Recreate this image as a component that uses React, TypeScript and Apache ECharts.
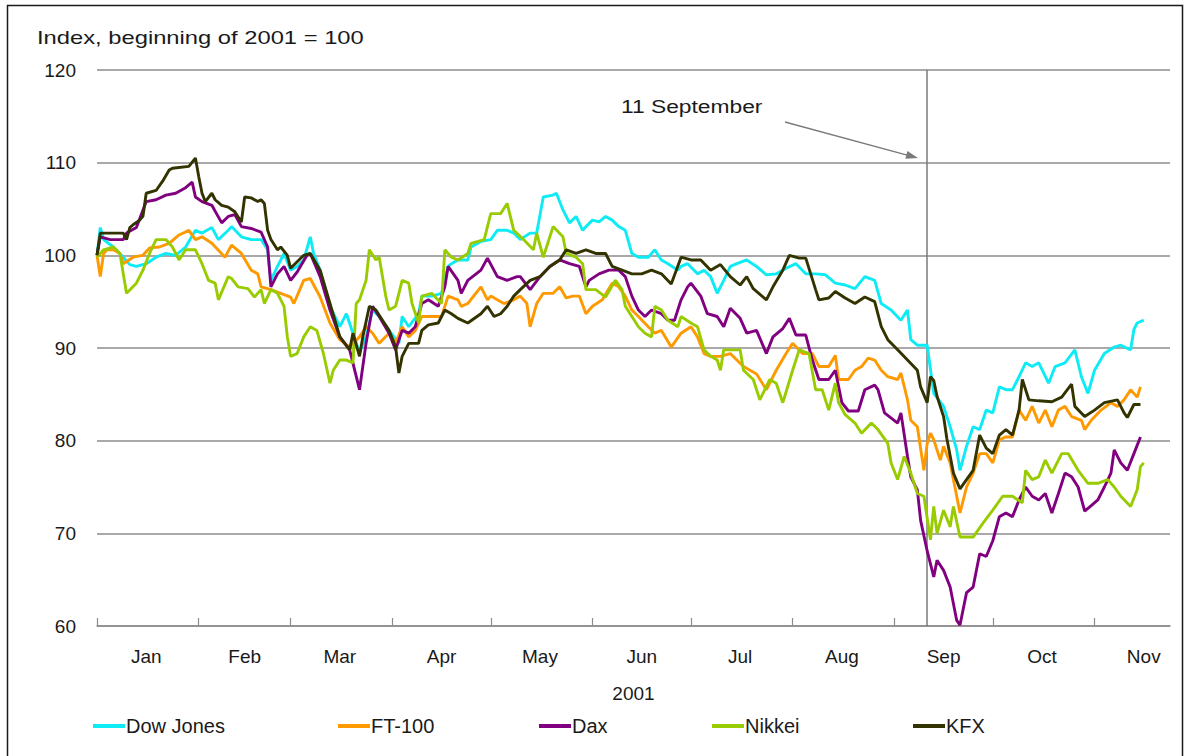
import React, { useEffect, useRef } from "react";
import * as echarts from "echarts";

// ---- Data (day of year 2001, Jan 1 = 0; index, beginning of 2001 = 100) ----
const MONTHS = ["Jan", "Feb", "Mar", "Apr", "May", "Jun", "Jul", "Aug", "Sep", "Oct", "Nov"];
const MONTH_START_DAYS = [0, 31, 59, 90, 120, 151, 181, 212, 243, 273, 304];
const MONTH_LABEL_DAYS = [15, 45, 74, 105, 135, 166, 196, 227, 258, 288, 319];
const Y_TICKS = [60, 70, 80, 90, 100, 110, 120];
const SEPT11_DAY = 253;
const SERIES_NAMES = ["Dow Jones", "FT-100", "Dax", "Nikkei", "KFX"];
const SERIES_COLORS = ["#0DEBF5", "#FF9900", "#800080", "#99CC00", "#333300"];

const dowJones: [number, number][] = [
  [0, 100], [1, 103], [2, 101.7], [5, 100.9], [8, 99.8], [10, 99], [12, 98.8], [15, 99.1], [18, 99.8],
  [21, 100.2], [24, 100], [27, 100.9], [30, 102.7], [32, 102.4], [35, 103], [37, 101.7], [40, 102.7],
  [41, 103.1], [44, 102], [47, 101.7], [50, 101.7], [52, 100.6], [53, 97.3], [55, 98.8], [57, 100.2],
  [59, 98.4], [61, 98.8], [63, 99.5], [65, 102], [66, 100.2], [68, 98.4], [71, 94.5], [74, 92.3],
  [76, 93.7], [78, 91.6], [80, 89.5], [82, 91.2], [84, 94.1], [86, 93.4], [89, 91.9], [92, 90.5],
  [93, 93.4], [95, 92.3], [98, 93.7], [99, 95.6], [102, 95.6], [105, 95.9], [107, 98.8], [108, 99.1],
  [110, 99.5], [113, 99.5], [114, 100.9], [117, 101.5], [120, 101.7], [122, 102.7], [125, 102.7],
  [127, 102.4], [129, 101.7], [132, 102.4], [134, 102.4], [136, 106.3], [139, 106.5], [140, 106.7],
  [142, 104.9], [144, 103.5], [146, 104.2], [148, 102.7], [149, 103.1], [151, 103.8], [153, 103.6],
  [155, 104.2], [157, 103.8], [159, 103.1], [161, 102.7], [163, 100.2], [165, 99.8], [168, 99.8],
  [170, 100.6], [172, 99.5], [174, 99.1], [177, 98.4], [178, 98.8], [180, 99.1], [183, 98], [185, 98.4],
  [187, 97.7], [189, 95.9], [191, 97.3], [193, 98.8], [195, 99.1], [198, 99.5], [201, 98.8], [204, 97.9],
  [207, 98], [210, 98.6], [213, 99.1], [216, 98], [219, 98], [222, 97.9], [225, 97], [228, 96.8],
  [231, 96.4], [234, 97.7], [237, 97.3], [239, 94.8], [242, 94.1], [245, 93], [247, 94.1], [248, 90.9],
  [250, 90.3], [253, 90.3], [255, 85.1], [258, 83.7], [260, 81.5], [262, 79], [263, 76.8], [265, 79.4],
  [267, 81.5], [269, 81.2], [271, 83.3], [273, 83], [275, 85.8], [277, 85.5], [279, 85.5], [281, 86.9],
  [283, 88.4], [285, 88], [287, 88.4], [290, 86.2], [292, 88], [295, 88.4], [298, 89.8], [300, 86.9],
  [302, 85.1], [304, 87.6], [307, 89.4], [310, 90.1], [312, 90.3], [315, 89.8], [316, 92], [317, 92.7],
  [319, 93],
];

const ft100: [number, number][] = [
  [0, 100], [1, 97.7], [2, 100.2], [3, 100.6], [5, 100.6], [7, 100.2], [8, 99.1], [11, 99.8], [14, 100],
  [16, 100.8], [19, 100.9], [22, 101.3], [25, 102.2], [28, 102.7], [30, 101.7], [32, 102], [35, 101.3],
  [39, 99.8], [41, 101.1], [44, 100.2], [47, 98.4], [49, 98], [50, 96.6], [53, 96.3], [56, 95.9],
  [59, 95.5], [60, 94.8], [63, 97.3], [65, 97.5], [68, 95.5], [71, 92.7], [74, 90.9], [77, 90.1],
  [80, 91.2], [82, 92.3], [84, 91.6], [86, 90.5], [89, 91.6], [91, 90.5], [93, 92.3], [95, 91.2],
  [97, 91.9], [99, 93.4], [102, 93.4], [105, 93.4], [107, 95.6], [110, 95.2], [111, 94.5], [113, 94.8],
  [117, 96.6], [119, 95.2], [120, 95.6], [124, 94.8], [127, 95.2], [129, 95.6], [131, 94.8], [132, 92.3],
  [134, 94.8], [136, 95.9], [139, 95.9], [141, 96.6], [143, 95.4], [145, 95.6], [147, 95.6], [149, 93.7],
  [151, 94.5], [154, 95.2], [157, 97], [159, 96.6], [161, 95.6], [163, 94.1], [165, 93.4], [168, 92.3],
  [170, 91.6], [172, 91.9], [175, 90.1], [178, 91.6], [181, 92.3], [183, 91.2], [185, 89.4], [187, 89.1],
  [190, 89.1], [193, 89.4], [197, 88], [201, 87.2], [204, 85.5], [207, 87.6], [210, 89.4], [212, 90.5],
  [215, 89.4], [218, 89.4], [220, 88], [223, 88], [225, 89.2], [226, 86.6], [229, 86.6], [231, 87.6],
  [233, 88], [235, 88.9], [237, 88.7], [239, 87.6], [241, 86.9], [244, 86.6], [245, 87.3], [247, 84.4],
  [248, 82.2], [250, 81.5], [252, 76.8], [253, 79.7], [254, 80.8], [255, 80.1], [257, 77.9], [258, 79.4],
  [260, 77.6], [262, 74], [263, 72.2], [265, 75], [267, 76.5], [269, 78.6], [271, 78.6], [273, 77.6],
  [275, 80.1], [277, 80.4], [279, 80.4], [281, 83.3], [283, 82.2], [285, 83.7], [287, 81.9], [289, 83.3],
  [291, 81.5], [293, 83.3], [295, 83.7], [297, 82.6], [300, 82.2], [301, 81.2], [303, 82.2], [306, 83.3],
  [309, 84.1], [311, 83.7], [313, 84.4], [315, 85.5], [317, 84.7], [318, 85.8],
];

const dax: [number, number][] = [
  [0, 100], [1, 102], [4, 101.7], [8, 101.7], [9, 102.4], [12, 103], [15, 105.8], [18, 106], [21, 106.5],
  [24, 106.7], [27, 107.3], [29, 107.9], [30, 106.3], [32, 105.8], [35, 105.4], [38, 103.5], [40, 104.2],
  [42, 104.4], [44, 103.1], [47, 102.9], [50, 102.5], [52, 100.9], [53, 96.6], [55, 98], [57, 98.8],
  [59, 97.3], [61, 98.2], [64, 100], [65, 100.2], [68, 97.7], [71, 94.1], [74, 91.2], [77, 89.8],
  [80, 85.5], [82, 90.5], [84, 94.5], [86, 93.4], [89, 91.6], [91, 89.8], [93, 91.9], [95, 91.6],
  [97, 92.3], [99, 94.8], [101, 95.2], [104, 94.5], [106, 96.6], [107, 98.8], [110, 97.3], [111, 95.9],
  [113, 97.3], [117, 98.4], [119, 99.7], [122, 97.7], [125, 97.3], [128, 97.7], [129, 97.7], [132, 96.3],
  [135, 97.7], [138, 98.8], [141, 99.5], [144, 99.1], [147, 98.8], [149, 96.6], [150, 97.3], [153, 98],
  [156, 98.4], [159, 98.4], [161, 97.7], [163, 95.6], [165, 94.1], [167, 93.4], [169, 94.1], [172, 93.7],
  [174, 93], [176, 93], [178, 95.2], [180, 96.6], [181, 97], [184, 95.6], [186, 93.7], [189, 93.4],
  [191, 92.3], [193, 94.3], [196, 93.2], [198, 91.6], [201, 91.9], [204, 89.4], [206, 91.2], [209, 92.1],
  [211, 93.2], [213, 91.4], [216, 91.4], [218, 88.7], [220, 86.6], [223, 86.6], [225, 87.6], [227, 84.1],
  [229, 83.2], [232, 83.2], [234, 85.5], [237, 86], [238, 85.5], [240, 83], [244, 81.9], [245, 83],
  [247, 78.3], [248, 76.1], [250, 74.7], [251, 71.4], [253, 68.1], [255, 65.3], [256, 67.1], [258, 66],
  [260, 64.2], [262, 60.6], [263, 60.1], [265, 63.6], [267, 64.2], [269, 67.8], [271, 67.5], [273, 69.2],
  [275, 71.8], [277, 72.2], [279, 71.8], [281, 73.6], [283, 75], [285, 74], [287, 73.6], [289, 74.3],
  [291, 72.2], [293, 74.3], [295, 76.5], [297, 76.1], [299, 75], [301, 72.4], [303, 73], [305, 73.6],
  [307, 75], [309, 76.5], [310, 79], [312, 77.6], [314, 76.8], [316, 78.6], [318, 80.4],
];

const nikkei: [number, number][] = [
  [0, 99.8], [2, 100.6], [5, 100.9], [7, 100.2], [8, 98], [9, 95.9], [12, 97], [14, 98.4], [16, 100.2],
  [18, 101.7], [21, 101.7], [23, 100.9], [25, 99.5], [27, 100.6], [30, 100.6], [32, 99.1], [34, 97.3],
  [36, 97], [37, 95.2], [40, 97.7], [41, 97.5], [43, 96.6], [46, 96.4], [48, 95.5], [50, 96.3], [51, 94.8],
  [53, 96.3], [55, 95.9], [57, 94.5], [58, 91.2], [59, 89.1], [61, 89.4], [63, 91.2], [65, 92.3],
  [67, 91.9], [69, 89.4], [71, 86.2], [72, 87.6], [74, 88.7], [76, 88.7], [78, 88.4], [79, 94.8],
  [80, 95.2], [82, 97.3], [83, 100.6], [85, 99.5], [86, 99.8], [88, 95.6], [89, 94.1], [91, 94.5],
  [93, 97.3], [95, 97], [96, 94.8], [98, 92.7], [99, 95.6], [102, 95.9], [105, 94.8], [106, 100.6],
  [108, 99.8], [110, 99.5], [113, 100.2], [114, 101.3], [118, 101.7], [120, 104.5], [123, 104.5],
  [125, 105.6], [127, 102.7], [130, 101.7], [133, 100.6], [134, 102.4], [136, 99.8], [137, 100.9],
  [139, 103.1], [142, 102], [143, 100.2], [146, 99.8], [148, 99.1], [149, 96.3], [152, 96.3], [155, 95.5],
  [158, 97.3], [160, 96.3], [161, 94.5], [163, 93.4], [165, 92.3], [167, 91.6], [169, 91.2], [170, 94.5],
  [172, 94.1], [174, 93], [177, 92.3], [178, 93.4], [181, 92.7], [183, 92.3], [185, 89.8], [187, 89.1],
  [189, 88.7], [190, 87.6], [191, 89.8], [194, 89.8], [196, 89.8], [197, 87.6], [200, 86.6], [202, 84.4],
  [205, 86.6], [207, 86.2], [209, 84.1], [212, 87.6], [214, 89.8], [217, 89.4], [219, 85.5], [221, 85.5],
  [223, 83.3], [225, 86.2], [226, 84.1], [228, 82.8], [231, 81.9], [233, 80.8], [236, 81.9], [238, 81.2],
  [241, 79.7], [242, 77.6], [244, 75.8], [246, 78.3], [248, 76.5], [250, 74.3], [252, 74], [254, 69.3],
  [255, 72.9], [256, 70], [258, 72.5], [260, 70.7], [261, 72.9], [263, 69.6], [267, 69.6], [270, 71.1],
  [273, 72.5], [276, 74], [279, 74], [282, 73.3], [283, 76.8], [285, 75.8], [287, 76.1], [289, 77.9],
  [291, 76.5], [294, 78.6], [296, 78.6], [299, 76.8], [302, 75.4], [305, 75.4], [308, 75.8], [310, 75],
  [312, 74], [315, 72.9], [317, 74.7], [318, 77.2], [319, 77.6],
];

const kfx: [number, number][] = [
  [0, 100], [1, 102.4], [8, 102.4], [9, 101.7], [10, 103], [11, 103.3], [13, 103.8], [14, 104.2],
  [15, 106.7], [18, 107], [20, 108], [22, 109.2], [23, 109.4], [28, 109.6], [30, 110.5], [31, 108.5],
  [32, 106.7], [33, 105.8], [35, 106.7], [36, 106], [38, 105.4], [40, 105.2], [42, 104.7], [44, 103.6],
  [45, 106.3], [47, 106.2], [49, 105.8], [50, 106], [51, 105.6], [52, 102.7], [53, 101.7], [55, 100.6],
  [56, 100.9], [58, 100], [59, 98.6], [61, 99.3], [63, 100], [65, 100.2], [68, 98.4], [71, 94.8],
  [74, 91.2], [77, 89.8], [78, 91.6], [80, 89.1], [81, 91.2], [83, 94.5], [85, 94.1], [87, 93],
  [89, 91.9], [91, 90.1], [92, 87.3], [93, 89.1], [95, 90.5], [98, 90.5], [99, 91.9], [101, 92.5],
  [104, 92.7], [106, 94.1], [108, 93.7], [110, 93.2], [113, 92.7], [117, 93.7], [119, 94.5], [121, 93.4],
  [123, 93.7], [125, 94.5], [127, 95.6], [129, 96.3], [132, 97.3], [135, 97.7], [138, 98.8], [141, 99.5],
  [143, 100.6], [146, 100.2], [149, 100.6], [152, 100.2], [155, 100.2], [157, 98.8], [160, 98.4],
  [163, 98], [166, 98], [169, 98.4], [172, 98], [175, 96.9], [178, 99.8], [181, 99.5], [184, 99.5],
  [187, 98.4], [190, 99], [193, 97.7], [196, 96.8], [198, 97.7], [200, 96.4], [204, 95.2], [206, 96.6],
  [209, 98.4], [211, 100], [214, 99.7], [216, 99.7], [219, 96.3], [220, 95.2], [223, 95.4], [225, 96.1],
  [228, 95.4], [231, 94.8], [234, 95.5], [237, 95], [239, 92.3], [241, 90.9], [244, 89.8], [247, 88.7],
  [250, 87.6], [251, 85.8], [253, 84.1], [254, 86.9], [255, 86.5], [256, 84.8], [258, 82.6], [259, 80.2],
  [261, 76.5], [263, 74.8], [265, 75.8], [267, 76.8], [269, 80.6], [271, 79.2], [273, 78.6], [275, 80.6],
  [277, 81.2], [279, 80.6], [281, 83.3], [282, 86.6], [284, 84.4], [287, 84.3], [291, 84.2], [294, 84.7],
  [297, 86.1], [298, 83.7], [301, 82.6], [304, 83.3], [307, 84.1], [311, 84.4], [313, 83], [314, 82.5],
  [316, 83.9], [318, 83.9],
];

const SERIES_DATA = [dowJones, ft100, dax, nikkei, kfx];
const LEGEND_LEFTS = [93, 338, 539, 712, 913];

const FONT = "'Liberation Sans', Arial, Helvetica, sans-serif";
const GRID_COLOR = "#8c8c8c";
const TEXT_COLOR = "#1a1a1a";

export default function App() {
  const ref = useRef<HTMLDivElement | null>(null);

  useEffect(() => {
    document.body.style.margin = "0";
    if (!ref.current) return;
    const chart = echarts.init(ref.current, null, { renderer: "svg" });

    const series: any[] = SERIES_NAMES.map((name, i) => ({
      name,
      type: "line",
      data: SERIES_DATA[i],
      showSymbol: false,
      symbol: "none",
      lineStyle: { color: SERIES_COLORS[i], width: 2.9 },
      itemStyle: { color: SERIES_COLORS[i] },
      z: 3 + i,
    }));
    series[0].markLine = {
      silent: true,
      symbol: ["none", "none"],
      label: { show: false },
      lineStyle: { color: "#7a7a7a", width: 1.5, type: "solid" },
      data: [{ xAxis: SEPT11_DAY }],
      z: 2,
    };

    const ah = { tx: 918, ty: 158 };

    const option: any = {
      animation: false,
      backgroundColor: "#ffffff",
      textStyle: { fontFamily: FONT },
      grid: { left: 97, right: 17, top: 70, bottom: 130 },
      xAxis: {
        type: "value",
        min: 0,
        max: 327,
        name: "2001",
        nameLocation: "middle",
        nameGap: 58,
        nameTextStyle: { fontSize: 19, color: TEXT_COLOR, fontFamily: FONT },
        axisLine: { show: true, lineStyle: { color: GRID_COLOR, width: 1.5 } },
        axisTick: {
          show: true,
          inside: true,
          length: 8,
          customValues: MONTH_START_DAYS,
          lineStyle: { color: GRID_COLOR, width: 1.2 },
        },
        axisLabel: {
          show: true,
          customValues: MONTH_LABEL_DAYS,
          margin: 21,
          fontSize: 19,
          color: TEXT_COLOR,
          fontFamily: FONT,
          formatter: (v: number) => {
            const i = MONTH_LABEL_DAYS.indexOf(Math.round(v));
            return i >= 0 ? MONTHS[i] : "";
          },
        },
        splitLine: { show: false },
      },
      yAxis: {
        type: "value",
        min: Y_TICKS[0],
        max: Y_TICKS[Y_TICKS.length - 1],
        interval: 10,
        axisLine: { show: false },
        axisTick: { show: false },
        axisLabel: { margin: 21, fontSize: 19, color: TEXT_COLOR, fontFamily: FONT },
        splitLine: { show: true, lineStyle: { color: GRID_COLOR, width: 1.5 } },
      },
      legend: SERIES_NAMES.map((name, i) => ({
        data: [name],
        left: LEGEND_LEFTS[i],
        top: 716,
        padding: 0,
        icon: "rect",
        itemWidth: 32,
        itemHeight: 4,
        itemGap: 0,
        selectedMode: false,
        textStyle: { fontSize: 20, color: TEXT_COLOR, fontFamily: FONT, padding: [0, 0, 0, -4] },
      })),
      graphic: [
        {
          type: "rect",
          silent: true,
          shape: { x: 7.5, y: 5.5, width: 1175, height: 770 },
          style: { fill: "none", stroke: "#1a1a1a", lineWidth: 1.5 },
          z: 100,
        },
        {
          type: "text",
          x: 37,
          y: 38,
          scaleX: 1.25,
          style: {
            text: "Index, beginning of 2001 = 100",
            x: 0,
            y: 0,
            fontSize: 19,
            fontFamily: FONT,
            fill: TEXT_COLOR,
            verticalAlign: "middle",
          },
        },
        {
          type: "text",
          x: 621,
          y: 106,
          scaleX: 1.2,
          style: {
            text: "11 September",
            x: 0,
            y: 0,
            fontSize: 19,
            fontFamily: FONT,
            fill: TEXT_COLOR,
            verticalAlign: "middle",
          },
        },
        {
          type: "line",
          silent: true,
          shape: { x1: 785, y1: 122, x2: 908, y2: 155.3 },
          style: { stroke: "#7a7a7a", lineWidth: 1.3 },
        },
        {
          type: "polygon",
          silent: true,
          shape: {
            points: [
              [ah.tx, ah.ty],
              [905.4, 158.8],
              [907.4, 151.0],
            ],
          },
          style: { fill: "#7a7a7a" },
        },
      ],
      series,
    };

    chart.setOption(option);
    return () => chart.dispose();
  }, []);

  return <div ref={ref} style={{ width: 1187, height: 756 }} />;
}
